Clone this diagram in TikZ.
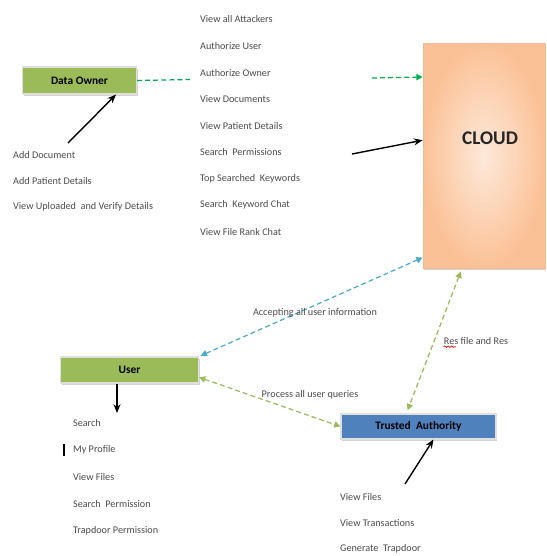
\documentclass[tikz,border=0pt]{standalone}
\usepackage{fontspec}
\setmainfont{Carlito}
\usepackage{tikz}
\usetikzlibrary{arrows.meta,shadows,decorations.pathmorphing}

\definecolor{olivegreen}{HTML}{9BBB59}
\definecolor{officeblue}{HTML}{4F81BD}
\definecolor{skyblue}{HTML}{4BACC6}
\definecolor{brightgreen}{HTML}{00B050}
\definecolor{peach}{HTML}{FBC196}
\definecolor{lightpeach}{HTML}{FDE9DA}

\begin{document}
\begin{tikzpicture}[x=0.02cm, y=-0.02cm,
    item/.style={anchor=west, inner sep=1pt, text=black!70, font=\fontsize{5.8}{7}\selectfont},
    linktext/.style={inner sep=1pt, text=black!70, font=\fontsize{5.8}{7}\selectfont},
    box/.style={draw=gray!25, line width=0.6pt, font=\bfseries\fontsize{6.5}{8}\selectfont,
      drop shadow={shadow xshift=0.6pt, shadow yshift=-1.2pt, opacity=0.35}},
    link/.style={dashed, dash pattern=on 2.8pt off 1.8pt, line width=0.7pt},
    oneway/.style={-{Triangle[length=3.6pt, width=3.6pt]}},
    twoway/.style={{Triangle[length=3.6pt, width=3.6pt]}-{Triangle[length=3.6pt, width=3.6pt]}},
    pointer/.style={-{Stealth[length=5pt, width=4pt]}, line width=0.8pt}]
  \useasboundingbox (0,0) rectangle (547,556);

  % main boxes
  \node[box, fill=olivegreen, minimum width=2.28cm, minimum height=0.54cm] (owner) at (79.5,80.5) {Data Owner};
  \node[box, fill=olivegreen, minimum width=2.76cm, minimum height=0.52cm] (user) at (129.5,370) {User};
  \node[box, fill=officeblue, minimum width=3.1cm, minimum height=0.5cm] (ta) at (418.5,426.5) {Trusted~ Authority};
  \node[rectangle, draw=peach!90!brown, minimum width=2.44cm, minimum height=4.5cm,
    inner color=lightpeach, outer color=peach,
    drop shadow={shadow xshift=0.3pt, shadow yshift=-1.2pt, opacity=0.35}] (cloud) at (484,155.5) {};
  \node[font=\bfseries\fontsize{11}{13}\selectfont, text=black!85] (cloudname) at (490,138.5) {CLOUD};

  % data owner functions
  \node[item] (own1) at (11,155) {Add Document};
  \node[item] (own2) at (11,181) {Add Patient Details};
  \node[item] (own3) at (11,207) {View Uploaded~ and Verify Details};

  % cloud functions
  \node[item] (cl1) at (198,19) {View all Attackers};
  \node[item] (cl2) at (198,46) {Authorize User};
  \node[item] (cl3) at (198,73) {Authorize Owner};
  \node[item] (cl4) at (198,99) {View Documents};
  \node[item] (cl5) at (198,126) {View Patient Details};
  \node[item] (cl6) at (198,152) {Search~ Permissions};
  \node[item] (cl7) at (198,179) {Top Searched~ Keywords};
  \node[item] (cl8) at (198,205) {Search~ Keyword Chat};
  \node[item] (cl9) at (198,232) {View File Rank Chat};

  % user functions
  \node[item] (us1) at (71,423) {Search};
  \node[item] (us2) at (71,450) {My Profile};
  \node[item] (us3) at (71,477) {View Files};
  \node[item] (us4) at (71,504) {Search~ Permission};
  \node[item] (us5) at (71,531) {Trapdoor Permission};
  \draw[line width=1.4pt] (64,444) -- (64,456);

  % trusted authority functions
  \node[item] (ta1) at (338,497) {View Files};
  \node[item] (ta2) at (338,523) {View Transactions};
  \node[item] (ta3) at (338,549) {Generate~ Trapdoor};

  % pointers into the boxes
  \coordinate (ownertail) at (68,143);
  \coordinate (cloudtail) at (352,154);
  \coordinate (usertip) at (117,413);
  \coordinate (tatail) at (405,484);
  \draw[pointer] (ownertail) -- (owner.-21);
  \draw[pointer] (cloudtail) -- (cloud.166);
  \draw[pointer] (user.south -| usertip) -- (usertip);
  \draw[pointer] (tatail) -- (ta.-41);

  % dashed links
  \coordinate (gapstart) at (190,79.5);
  \coordinate (gapend) at (372,78);
  \draw[link, brightgreen!80!teal] (owner.east) -- (gapstart);
  \draw[link, brightgreen, oneway] (gapend) -- (cloud.128);
  \draw[link, skyblue, twoway, shorten <=1pt] (user.north east) -- (cloud.239);
  \draw[link, olivegreen, twoway] (user.-6) -- (ta.west);
  \draw[link, olivegreen, twoway, shorten <=2pt, shorten >=2pt] (cloud.259) -- (ta.133);

  % link labels
  \node[linktext] (acclbl) at (315,313) {Accepting all user information};
  \node[linktext] (proclbl) at (310,395) {Process all user queries};
  \node[linktext] (reslbl) at (476,341) {Res file and Res};
  \draw[red, line width=0.4pt, decorate, decoration={snake, amplitude=0.4pt, segment length=2pt}]
    ([xshift=1pt]reslbl.south west) -- ([xshift=8pt]reslbl.south west);
\end{tikzpicture}
\end{document}
